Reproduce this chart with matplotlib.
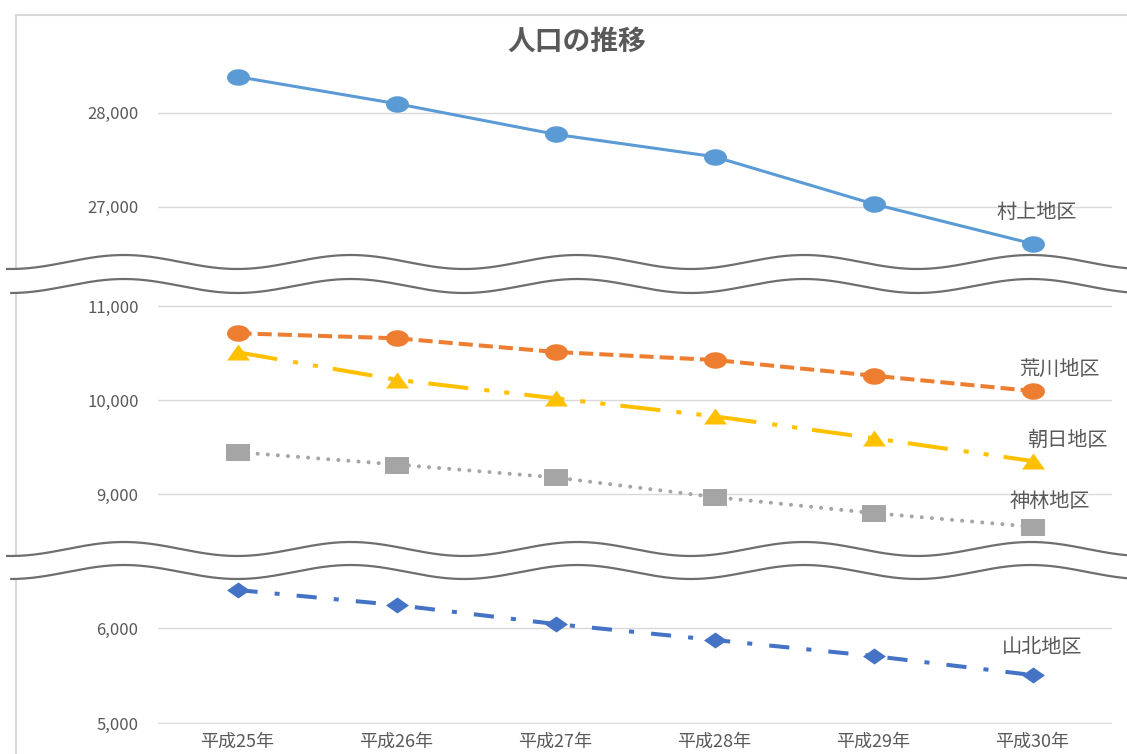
import numpy as np
import matplotlib
matplotlib.use('Agg')
import matplotlib.pyplot as plt
from matplotlib.path import Path
from matplotlib.ticker import FuncFormatter

plt.rcParams['font.family'] = ['Noto Sans CJK JP', 'DejaVu Sans']

# データ（人）
years = ['平成25年', '平成26年', '平成27年', '平成28年', '平成29年', '平成30年']
murakami = [28383, 28096, 27770, 27532, 27029, 26606]
arakawa = [10713, 10660, 10514, 10429, 10262, 10099]
asahi = [10511, 10219, 10021, 9830, 9596, 9354]
kamibayashi = [9448, 9317, 9179, 8971, 8800, 8655]
sanhoku = [6403, 6245, 6045, 5877, 5708, 5508]

top_ticks = [27000, 28000]
mid_ticks = [9000, 10000, 11000]
bot_ticks = [5000, 6000]

W, H = 1127, 754
fig = plt.figure(figsize=(W / 100, H / 100), dpi=100)
GRAY = '#595959'


def poly(pts):
    pts = list(pts) + [pts[0]]
    return Path(pts, closed=True)


# 横長のマーカー（元図は横に伸びている）
t = np.linspace(0, 2 * np.pi, 60)
m_ellipse = poly(list(zip(np.cos(t), 0.72 * np.sin(t)))[:-1])
m_tri = poly([(-1, -0.7), (1, -0.7), (0, 0.7)])
m_square = poly([(-1, -0.72), (1, -0.72), (1, 0.72), (-1, 0.72)])
m_diamond = poly([(0, 0.7), (1, 0), (0, -0.7), (-1, 0)])


def make_ax(top_px, bot_px, v0, p0, ppu, ticks):
    ax = fig.add_axes([158 / W, 1 - bot_px / H, 954 / W, (bot_px - top_px) / H])
    ax.set_ylim(v0 - (bot_px - p0) / ppu, v0 + (p0 - top_px) / ppu)
    ax.set_xlim(-0.5, 5.5)
    ax.patch.set_visible(False)
    for s in ax.spines.values():
        s.set_visible(False)
    ax.set_yticks(ticks)
    ax.grid(axis='y', color='#D9D9D9', lw=1)
    ax.set_axisbelow(True)
    ax.tick_params(length=0, labelsize=12, labelcolor=GRAY, pad=14)
    ax.yaxis.set_major_formatter(FuncFormatter(lambda v, p: f'{v:,.0f}'))
    ax.set_xticks([])
    return ax


ax_top = make_ax(60, 275, 28000, 112.7, 0.094, top_ticks)
ax_mid = make_ax(275, 565, 10000, 400.3, 0.094, mid_ticks)
ax_bot = make_ax(565, 724, 6000, 628.3, 0.095, bot_ticks)
ax_bot.set_xticks(range(len(years)), years)
ax_bot.tick_params(axis='x', labelsize=13, pad=6)

x = np.arange(len(years))
ax_top.plot(x, murakami, color='#5B9BD5', lw=2.2, marker=m_ellipse, ms=16.5,
            mew=0, clip_on=False)
ax_mid.plot(x, arakawa, color='#ED7D31', lw=2.9, ls=(0, (3.5, 1.5)),
            marker=m_ellipse, ms=16.5, mew=0, clip_on=False)
ax_mid.plot(x, asahi, color='#FFC000', lw=2.9,
            ls=(0, (10, 4, 1.25, 3.75, 1.25, 3.75)),
            marker=m_tri, ms=16.5, mew=0, clip_on=False)
ax_mid.plot(x, kamibayashi, color='#A5A5A5', lw=2.9, ls=(0, (0.01, 2.5)),
            dash_capstyle='round', marker=m_square, ms=17, mew=0, clip_on=False)
ax_bot.plot(x, sanhoku, color='#4472C4', lw=2.9, ls=(0, (5, 4.25, 1.25, 4.25)),
            marker=m_diamond, ms=16.5, mew=0, clip_on=False)

# 系列名
labels = [(ax_top, murakami, '村上地区', 4, 31),
          (ax_mid, arakawa, '荒川地区', 27, 22),
          (ax_mid, asahi, '朝日地区', 35, 21),
          (ax_mid, kamibayashi, '神林地区', 17, 25),
          (ax_bot, sanhoku, '山北地区', 10, 28)]
for ax, vals, name, dx, dy in labels:
    ax.annotate(name, (x[-1], vals[-1]), xytext=(dx, dy),
                textcoords='offset pixels', ha='center', va='center',
                fontsize=14.5, color=GRAY, annotation_clip=False)

# 枠線と省略の波線
ov = fig.add_axes([0, 0, 1, 1], zorder=5)
ov.set_xlim(0, W)
ov.set_ylim(H, 0)
ov.axis('off')
ov.plot([16, 16], [15, H], color='#D9D9D9', lw=1.5, zorder=1)
ov.plot([16, W], [15, 15], color='#D9D9D9', lw=1.5, zorder=1)

xs = np.linspace(0, W, 800)
for c_up, c_lo in [(262, 286), (549, 572)]:
    wave = -7 * np.cos(2 * np.pi * (xs - 124) / 226.7)
    ov.fill_between(xs, c_up + wave, c_lo + wave, color='white', zorder=2)
    m1 = xs >= 6
    m2 = xs >= 10
    ov.plot(xs[m1], c_up + wave[m1], color='#6E6E6E', lw=1.6, zorder=3)
    ov.plot(xs[m2], c_lo + wave[m2], color='#6E6E6E', lw=1.6, zorder=3)

fig.text(577 / W, 1 - 42 / H, '人口の推移', ha='center', va='center',
         fontsize=20, color=GRAY, fontweight='bold')

fig.savefig('out.png', dpi=100, facecolor='white')
